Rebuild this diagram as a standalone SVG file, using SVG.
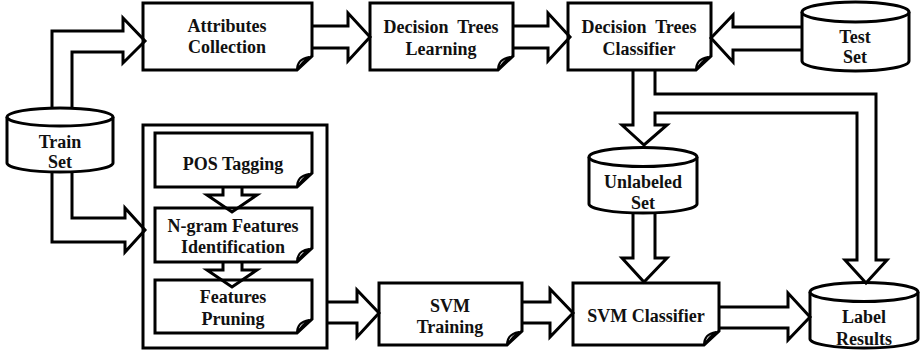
<svg xmlns="http://www.w3.org/2000/svg" width="921" height="353" viewBox="0 0 921 353">
<style>
.box{fill:#fff;stroke:#000;stroke-width:3;stroke-linejoin:miter}
.curl{fill:#fff;stroke:#000;stroke-width:2;stroke-linejoin:round}
.arr{fill:none;stroke:#000;stroke-width:3;stroke-linejoin:miter}
text{font-family:"Liberation Serif","Times New Roman",serif;font-weight:bold;font-size:18px;text-anchor:middle;fill:#111}
</style>
<rect width="921" height="353" fill="#fff"/>
<g id="train-set">
<path class="box" d="M7,117 A53,9 0 0 1 113,117 V163 A53,9 0 0 1 7,163 Z"/>
<path class="box" d="M7,117 A53,9 0 0 0 113,117"/>
<text x="60" y="148">Train</text><text x="60" y="168">Set</text>
</g>
<g id="test-set">
<path class="box" d="M802,12 A53.5,10 0 0 1 909,12 V61 A53.5,10 0 0 1 802,61 Z"/>
<path class="box" d="M802,12 A53.5,10 0 0 0 909,12"/>
<text x="855" y="43">Test</text><text x="855" y="63">Set</text>
</g>
<g id="unlabeled-set">
<path class="box" d="M589,157 A54,9.5 0 0 1 697,157 V204 A54,9 0 0 1 589,204 Z"/>
<path class="box" d="M589,157 A54,9.5 0 0 0 697,157"/>
<text x="643" y="188">Unlabeled</text><text x="643" y="209">Set</text>
</g>
<g id="label-results">
<path class="box" d="M810,292 A54,9.5 0 0 1 918,292 V339 A54,9 0 0 1 810,339 Z"/>
<path class="box" d="M810,292 A54,9.5 0 0 0 918,292"/>
<text x="864" y="323">Label</text><text x="864" y="345">Results</text>
</g>
<g id="attributes-collection">
<path class="box" d="M143,3 H312 V56 L297,70 H143 Z"/>
<path class="curl" d="M297,70 Q297,59 309,57 Q302,62 297,70 Z"/>
<text x="227" y="32">Attributes</text><text x="227" y="53">Collection</text>
</g>
<g id="decision-trees-learning">
<path class="box" d="M370,3 H513 V56 L498,70 H370 Z"/>
<path class="curl" d="M498,70 Q498,59 510,57 Q503,62 498,70 Z"/>
<text x="441" y="33" xml:space="preserve">Decision  Trees</text><text x="441" y="55">Learning</text>
</g>
<g id="decision-trees-classifier">
<path class="box" d="M568,3 H711 V56 L696,70 H568 Z"/>
<path class="curl" d="M696,70 Q696,59 708,57 Q701,62 696,70 Z"/>
<text x="639" y="33" xml:space="preserve">Decision  Trees</text><text x="639" y="55">Classifier</text>
</g>
<g id="feature-group">
<rect class="box" x="143" y="125" width="184" height="223" style="fill:none"/>
</g>
<g id="pos-tagging">
<path class="box" d="M155,133 H312 V173 L297,187 H155 Z"/>
<path class="curl" d="M297,187 Q297,176 309,174 Q302,179 297,187 Z"/>
<text x="233" y="170">POS Tagging</text>
</g>
<g id="ngram-features">
<path class="box" d="M155,208 H312 V248 L297,262 H155 Z"/>
<path class="curl" d="M297,262 Q297,251 309,249 Q302,254 297,262 Z"/>
<text x="233" y="232">N-gram Features</text><text x="233" y="253">Identification</text>
</g>
<g id="features-pruning">
<path class="box" d="M155,280 H312 V319 L297,333 H155 Z"/>
<path class="curl" d="M297,333 Q297,322 309,320 Q302,325 297,333 Z"/>
<text x="233" y="303">Features</text><text x="233" y="325">Pruning</text>
</g>
<g id="svm-training">
<path class="box" d="M379,283 H522 V331 L507,345 H379 Z"/>
<path class="curl" d="M507,345 Q507,334 519,332 Q512,337 507,345 Z"/>
<text x="450" y="312">SVM</text><text x="450" y="333">Training</text>
</g>
<g id="svm-classifier">
<path class="box" d="M573,283 H719 V331 L704,345 H573 Z"/>
<path class="curl" d="M704,345 Q704,334 716,332 Q709,337 704,345 Z"/>
<text x="646" y="322">SVM Classifier</text>
</g>
<g id="connectors">
<path class="arr" d="M52,108 V31 H123 V18 L145,41 L123,63 V52 H72 V108"/>
<path class="arr" d="M52,172 V242 H125 V252 L145,230 L125,208 V218 H72 V172"/>
<path class="arr" d="M312,26 H348 V13 L370,37 L348,61 V48 H312"/>
<path class="arr" d="M513,26 H548 V13 L570,37 L548,61 V48 H513"/>
<path class="arr" d="M802,27 H733 V15 L711,38 L733,62 V50 H802"/>
<path class="arr" d="M633,70 V125 H622 L644,145 L667,125 H655 V113 H857 V260 H845 L866,283 L887,260 H876 V94 H655 V70"/>
<path class="arr" d="M633,213 V258 H622 L644,282 L667,258 H655 V213"/>
<path class="arr" d="M719,307 H788 V293 L810,317 L788,340 V328 H719"/>
<path class="arr" d="M327,302 H357 V290 L379,313 L357,337 V323 H327"/>
<path class="arr" d="M522,302 H550 V289 L573,313 L550,337 V323 H522"/>
<path class="arr" d="M223,187 V195 H207 L232,212 L257,195 H242 V187"/>
<path class="arr" d="M223,262 V270 H207 L232,287 L257,270 H242 V262"/>
</g>
</svg>
